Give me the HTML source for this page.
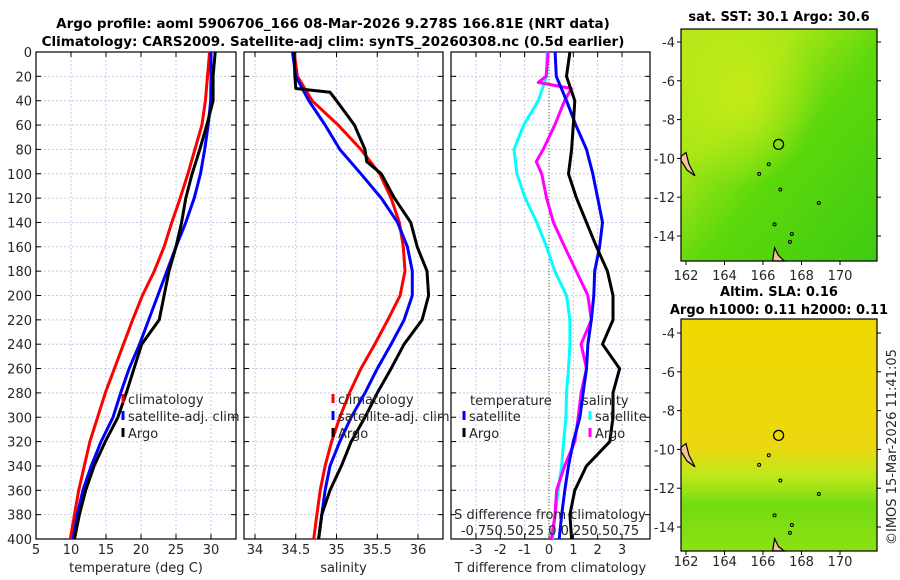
<!DOCTYPE html>
<html><head><meta charset="utf-8">
<style>
html,body{margin:0;padding:0;background:#fff;}
svg{display:block;font-family:"DejaVu Sans","Liberation Sans",sans-serif;}
</style></head>
<body>
<svg id="chart" width="900" height="580" viewBox="0 0 900 580" xmlns="http://www.w3.org/2000/svg">
<defs>
<linearGradient id="sstg" x1="0" y1="0" x2="1" y2="1">
<stop offset="0" stop-color="#b8e81a"/><stop offset="0.3" stop-color="#a6e616"/><stop offset="0.55" stop-color="#5cd80c"/><stop offset="1" stop-color="#3fcc12"/>
</linearGradient>
<radialGradient id="sstr" cx="0.3" cy="0.28" r="0.4"><stop offset="0" stop-color="#c8ec18" stop-opacity="0.9"/><stop offset="1" stop-color="#c8ec18" stop-opacity="0"/></radialGradient>
<linearGradient id="slag" x1="0" y1="0" x2="0" y2="1">
<stop offset="0" stop-color="#f0d800"/><stop offset="0.55" stop-color="#ecd810"/><stop offset="0.68" stop-color="#bfe81c"/><stop offset="0.8" stop-color="#72dc10"/><stop offset="1" stop-color="#8ee014"/>
</linearGradient>
</defs>
<g id="root"></g>
</svg>
<script>
const depths=[0,20,40,60,80,100,120,140,160,180,200,220,240,260,280,300,320,340,360,380,400];
const tClim=[29.8,29.5,29.2,28.7,27.7,26.7,25.6,24.4,23.3,21.9,20.2,18.8,17.5,16.2,14.9,13.8,12.7,11.9,11.1,10.5,9.9];
const tSat=[30.0,30.0,29.95,29.6,29.1,28.5,27.6,26.4,25.0,23.7,22.4,21.1,19.8,18.3,17.1,16.0,14.3,12.9,11.7,10.9,10.3];
const tArgo=[30.6,30.3,30.3,29.4,28.4,27.3,26.4,25.8,25.0,24.0,23.3,22.6,20.1,19.0,17.9,16.7,14.9,13.3,12.1,11.2,10.5];
const sClim=[34.48,34.52,34.7,35.02,35.3,35.53,35.67,35.77,35.82,35.84,35.78,35.63,35.47,35.3,35.16,35.04,34.94,34.86,34.8,34.76,34.72];
const sSat=[34.46,34.5,34.66,34.86,35.04,35.3,35.55,35.75,35.87,35.93,35.93,35.83,35.67,35.5,35.35,35.18,35.04,34.92,34.86,34.82,34.78];
const argoSDepth=[0,20,30,33,40,60,80,90,100,120,140,160,180,200,220,240,260,280,300,320,340,360,380,400];
const sArgo=[34.48,34.49,34.5,34.92,35.0,35.22,35.35,35.37,35.55,35.71,35.91,35.99,36.11,36.13,36.05,35.83,35.67,35.5,35.35,35.18,35.06,34.92,34.82,34.78];
const dTSat=[0.25,0.3,0.72,1.1,1.54,1.8,2.0,2.2,2.08,1.88,1.84,1.74,1.6,1.54,1.4,1.27,1.0,0.8,0.65,0.52,0.42];
const dTArgo=[0.86,0.72,1.06,1.0,0.93,0.8,1.13,1.54,1.95,2.4,2.63,2.63,2.2,2.9,2.63,2.63,2.5,1.54,1.06,0.86,0.93];
const dSSat=[-0.018,-0.025,-0.11,-0.26,-0.36,-0.33,-0.245,-0.125,-0.025,0.06,0.18,0.215,0.215,0.2,0.18,0.175,0.15,0.13,0.095,0.063,0.038];
const dSArgoDepth=[0,20,25,30,40,60,80,90,100,120,140,160,180,200,220,240,260,280,300,320,340,360,380,400];
const dSArgo=[-0.008,-0.03,-0.11,0.23,0.16,0.06,-0.06,-0.13,-0.075,-0.025,0.045,0.16,0.28,0.4,0.435,0.33,0.385,0.33,0.3,0.265,0.16,0.078,0.063,0.025];
const yTicks=[0,20,40,60,80,100,120,140,160,180,200,220,240,260,280,300,320,340,360,380,400];
const tTicks=[5,10,15,20,25,30];
const salTicks=[34,34.5,35,35.5,36];
const dTTicks=[-3,-2,-1,0,1,2,3];
const lonTicks=[162,164,166,168,170];
const latTicks=[-4,-6,-8,-10,-12,-14];

const NS="http://www.w3.org/2000/svg";
const root=document.getElementById('root');
function el(tag,attrs,parent,text){const e=document.createElementNS(NS,tag);for(const k in attrs)e.setAttribute(k,attrs[k]);if(text!==undefined)e.textContent=text;(parent||root).appendChild(e);return e;}
const Y0=52,Y1=539;
const yS=d=>Y0+(Y1-Y0)*d/400;
function lin(d0,d1,r0,r1){return v=>r0+(v-d0)*(r1-r0)/(d1-d0);}

function panel(name,x0,x1,xs,ticks,fmt,label,showY){
  const g=el('g',{});
  
  
  ticks.forEach(t=>{el('line',{x1:xs(t),x2:xs(t),y1:Y0,y2:Y1,stroke:'#c4cbe6','stroke-width':1,'stroke-dasharray':'2,2'},g);});
  yTicks.forEach(t=>{if(t>0&&t<400)el('line',{x1:x0,x2:x1,y1:yS(t),y2:yS(t),stroke:'#c4cbe6','stroke-width':1,'stroke-dasharray':'2,2'},g);});
  const fr=el('rect',{x:x0,y:Y0,width:x1-x0,height:Y1-Y0,fill:'none',stroke:'#000','stroke-width':1.2},g);
  
  
  yTicks.forEach(t=>{el('line',{x1:x0,x2:x0+5,y1:yS(t),y2:yS(t),stroke:'#000'},g);el('line',{x1:x1-5,x2:x1,y1:yS(t),y2:yS(t),stroke:'#000'},g);
    if(showY){const tx=el('text',{x:x0-4,y:yS(t)+5,'text-anchor':'end','font-size':13,fill:'#262626'},g,String(t));}});
  if(ticks){ticks.forEach(t=>{el('line',{x1:xs(t),x2:xs(t),y1:Y1-5,y2:Y1,stroke:'#000'},g);el('line',{x1:xs(t),x2:xs(t),y1:Y0,y2:Y0+5,stroke:'#000'},g);
    const tx=el('text',{x:xs(t),y:554,'text-anchor':'middle','font-size':13,fill:'#262626'},g,fmt(t));});}
  const lb=el('text',{x:(x0+x1)/2,y:572,'text-anchor':'middle','font-size':13,fill:'#262626'},g,label);
  
  
  return g;
}
function line(g,vals,ds,xs,color,name){
  const p=vals.map((v,i)=>(i?'L':'M')+xs(v).toFixed(1)+','+yS(ds[i]).toFixed(1)).join('');
  const e=el('path',{d:p,fill:'none',stroke:color,'stroke-width':3,'stroke-linejoin':'round'},g);
  
  
}
function legend(g,x,y,color,text,name){
  const gg=el('g',{},g);
  
  
  el('line',{x1:x,x2:x,y1:y-6,y2:y+3,stroke:color,'stroke-width':3},gg);
  el('text',{x:x+5,y:y+4,'font-size':13,fill:'#262626'},gg,text);
}
function T(x,y,s,txt,name,attrs){const a=Object.assign({x:x,y:y,'font-size':s,fill:'#262626'},attrs||{});const t=el('text',a,root,txt);return t;}

T(333,28,13.5,'Argo profile: aoml 5906706_166 08-Mar-2026 9.278S 166.81E (NRT data)','title-line-1',{'text-anchor':'middle','font-weight':'bold',fill:'#000'});
T(333,46,13.5,'Climatology: CARS2009. Satellite-adj clim: synTS_20260308.nc (0.5d earlier)','title-line-2',{'text-anchor':'middle','font-weight':'bold',fill:'#000'});

const xT=lin(5,33.57,36,236);
const g1=panel('temperature-panel',36,236,xT,tTicks,String,'temperature (deg C)',true);
line(g1,tClim,depths,xT,'#ff0000','temp-climatology-line');
line(g1,tSat,depths,xT,'#0000ff','temp-satellite-line');
line(g1,tArgo,depths,xT,'#000000','temp-argo-line');
legend(g1,123,400,'#ff0000','climatology','legend-climatology');
legend(g1,123,417,'#0000ff','satellite-adj. clim','legend-satellite-adj');
legend(g1,123,434,'#000000','Argo','legend-argo');

const xSal=lin(34,36,255,418);
const g2=panel('salinity-panel',244,443,xSal,salTicks,String,'salinity',false);
line(g2,sClim,depths,xSal,'#ff0000','sal-climatology-line');
line(g2,sSat,depths,xSal,'#0000ff','sal-satellite-line');
line(g2,sArgo,argoSDepth,xSal,'#000000','sal-argo-line');
legend(g2,333,400,'#ff0000','climatology','legend-climatology-2');
legend(g2,333,417,'#0000ff','satellite-adj. clim','legend-satellite-adj-2');
legend(g2,333,434,'#000000','Argo','legend-argo-2');

const xD=lin(-3,3,476,622);
const xDS=v=>xD(v*4);
const g3=panel('difference-panel',451,650,xD,dTTicks,String,'T difference from climatology',false);
el('line',{x1:xD(0),x2:xD(0),y1:Y0,y2:Y1,stroke:'#556b2f','stroke-width':1,'stroke-dasharray':'1,2'},g3);
line(g3,dSSat,depths,xDS,'#00ffff','sal-diff-satellite-line');
line(g3,dSArgo,dSArgoDepth,xDS,'#ff00ff','sal-diff-argo-line');
line(g3,dTSat,depths,xD,'#0000ff','temp-diff-satellite-line');
line(g3,dTArgo,depths,xD,'#000000','temp-diff-argo-line');
T(470,405,13,'temperature','legend-temperature-header');
legend(g3,464,417,'#0000ff','satellite','legend-temp-satellite');
legend(g3,464,434,'#000000','Argo','legend-temp-argo');
T(582,405,13,'salinity','legend-salinity-header');
legend(g3,590,417,'#00ffff','satellite','legend-sal-satellite');
legend(g3,590,434,'#ff00ff','Argo','legend-sal-argo');
T(550,519,13,'S difference from climatology','s-axis-title',{'text-anchor':'middle'});
T(550,535,13,'-0.750.50.25 0 0.250.50.75','s-axis-tick-labels',{'text-anchor':'middle'});

function map(name,top,bot,lat4,lat14,fill,title1,title2,t1y,t2y,labY){
  const g=el('g',{});
  
  
  const L=681,R=877;
  const lon=lin(162,170,686,840);
  const lat=lin(-4,-14,lat4,lat14);
  el('rect',{x:L,y:top,width:R-L,height:bot-top,fill:fill},g);
  if(name==='sst-map'){el('rect',{x:L,y:top,width:R-L,height:bot-top,fill:'url(#sstr)'},g);}
  el('path',{d:`M${L},${lat(-10.1)} L${L+6},${lat(-10.6)} L${L+14},${lat(-10.9)} L${L+8},${lat(-10.3)} L${L+5},${lat(-9.7)} L${L},${lat(-9.9)}Z`,fill:'#f5c09c',stroke:'#000','stroke-width':1.2},g);
  el('path',{d:`M${lon(166.5)},${bot} L${lon(166.6)},${lat(-14.6)} L${lon(166.8)},${lat(-15)} L${lon(167.1)},${bot}Z`,fill:'#f5c09c',stroke:'#000','stroke-width':1.2},g);
  [[165.8,-10.8],[166.9,-11.6],[167.5,-13.9],[167.4,-14.3],[166.6,-13.4],[166.3,-10.3],[168.9,-12.3]].forEach(p=>el('circle',{cx:lon(p[0]),cy:lat(p[1]),r:1.5,fill:'none',stroke:'#000','stroke-width':1},g));
  const c=el('circle',{cx:lon(166.81),cy:lat(-9.278),r:5,fill:'none',stroke:'#000','stroke-width':1.3},g);
  
  
  el('rect',{x:L,y:top,width:R-L,height:bot-top,fill:'none',stroke:'#000','stroke-width':1.2},g);
  latTicks.forEach(t=>{el('line',{x1:R,x2:R+4,y1:lat(t),y2:lat(t),stroke:'#000'},g);el('line',{x1:L-4,x2:L,y1:lat(t),y2:lat(t),stroke:'#000'},g);
    const tx=el('text',{x:L-6,y:lat(t)+5,'text-anchor':'end','font-size':13,fill:'#262626'},g,String(t));});
  lonTicks.forEach(t=>{el('line',{x1:lon(t),x2:lon(t),y1:bot,y2:bot+4,stroke:'#000'},g);
    const tx=el('text',{x:lon(t),y:labY,'text-anchor':'middle','font-size':13,fill:'#262626'},g,String(t));});
  T(779,t1y,13,title1,name+'-title',{'text-anchor':'middle','font-weight':'bold',fill:'#000'});
  if(title2)T(779,t2y,13,title2,name+'-subtitle',{'text-anchor':'middle','font-weight':'bold',fill:'#000'});
}
map('sst-map',29,261,42,236,'url(#sstg)','sat. SST: 30.1 Argo: 30.6',null,21,0,280);
map('sla-map',319,551,333,527,'url(#slag)','Altim. SLA: 0.16','Argo h1000: 0.11 h2000: 0.11',296,314,566);
T(896,545,13,'©IMOS 15-Mar-2026 11:41:05','timestamp',{transform:'rotate(-90 896 545)'});
</script>
</body></html>
